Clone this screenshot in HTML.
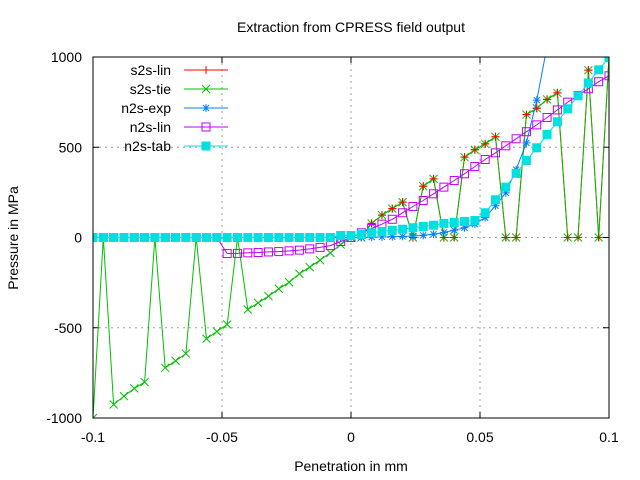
<!DOCTYPE html>
<html><head><meta charset="utf-8"><style>
body{margin:0;background:#fff;}
svg{display:block;font-family:"Liberation Sans",sans-serif;}
</style></head><body>
<svg id="chart" width="640" height="480">
<text x="351" y="32" font-size="14" text-anchor="middle">Extraction from CPRESS field output</text>
<text x="351" y="471" font-size="14" text-anchor="middle">Penetration in mm</text>
<text transform="translate(18,238) rotate(-90)" font-size="14" text-anchor="middle">Pressure in MPa</text>
<g id="grid"></g>
<g id="ticks"></g>
<defs><clipPath id="pc"><rect x="93" y="57" width="516" height="361"/></clipPath></defs>
<g id="series" clip-path="url(#pc)"></g>
<rect x="93" y="57" width="516" height="361" fill="none" stroke="#000" stroke-width="1"/>
<g id="legend"></g>
</svg>
<script>
const xTicks=[-0.1,-0.05,0,0.05,0.1];
const xTickLabels=["-0.1","-0.05","0","0.05","0.1"];
const yTicks=[-1000,-500,0,500,1000];
const yTickLabels=["-1000","-500","0","500","1000"];
const names=["s2s-lin","s2s-tie","n2s-exp","n2s-lin","n2s-tab"];
const colors=["#ff0000","#00c000","#0080ff","#c000ff","#00e0e0"];
const xs=[-0.1,-0.096,-0.092,-0.088,-0.084,-0.08,-0.076,-0.072,-0.068,-0.064,-0.06,-0.056,-0.052,-0.048,-0.044,-0.04,-0.036,-0.032,-0.028,-0.024,-0.02,-0.016,-0.012,-0.008,-0.004,0,0.004,0.008,0.012,0.016,0.02,0.024,0.028,0.032,0.036,0.04,0.044,0.048,0.052,0.056,0.06,0.064,0.068,0.072,0.076,0.08,0.084,0.088,0.092,0.096,0.1];
const s2sTie=[-1000,0,-925,-879,-836,-801,0,-722,-683,-643,0,-561,-521,-482,0,-399,-362,-325,-284,-248,-201,-164,-126,-85,-39,0,0,78,124,160,196,0,284,325,0,0,445,486,519,558,0,0,681,716,765,801,0,0,927,0,1000];
const s2sLin=[0,0,0,0,0,0,0,0,0,0,0,0,0,0,0,0,0,0,0,0,0,0,0,0,0,0,0,78,124,160,196,0,284,325,0,0,445,486,519,558,0,0,681,716,765,801,0,0,927,0,1000];
const n2sExp=[0,0,0,0,0,0,0,0,0,0,0,0,0,0,0,0,0,0,0,0,0,0,0,0,0,0,0,2,3,4,6,8,12,18,28,40,54,74,110,176,247,376,524,761,1060,1450,1950,2600,3400,4400,5600];
const n2sLin=[0,0,0,0,0,0,0,0,0,0,0,0,0,-89,-88,-85,-83,-80,-78,-74,-70,-63,-55,-45,-22,0,26,50,74,101,137,172,205,242,279,316,353,393,432,469,508,547,586,624,665,707,750,787,824,863,896];
const n2sTab=[0,0,0,0,0,0,0,0,0,0,0,0,0,0,0,0,0,0,0,0,0,0,0,0,11,11,17,26,33,40,46,54,61,68,78,83,89,94,137,209,279,355,427,497,571,641,713,785,856,929,997];
const NS="http://www.w3.org/2000/svg";
const X0=93,X1=609,Y0=418,Y1=57;
function sx(v){return X0+(v+0.1)/0.2*(X1-X0);}
function sy(v){return Y0-(v+1000)/2000*(Y0-Y1);}
function mk(tag,attrs,parent){const e=document.createElementNS(NS,tag);for(const k in attrs)e.setAttribute(k,attrs[k]);parent.appendChild(e);return e;}
const grid=document.getElementById('grid'),ticks=document.getElementById('ticks');
xTicks.forEach((t,i)=>{
 const x=sx(t);
 if(i>0&&i<xTicks.length-1){const g=mk('line',{x1:x,x2:x,y1:Y1,y2:Y0,stroke:'#a0a0a0','stroke-dasharray':'2,4'},grid);}
 mk('line',{x1:x,x2:x,y1:Y0,y2:Y0-6,stroke:'#000'},ticks);mk('line',{x1:x,x2:x,y1:Y1,y2:Y1+6,stroke:'#000'},ticks);
 const l=mk('text',{x:x,y:442,'font-size':14,'text-anchor':'middle'},ticks);l.textContent=xTickLabels[i];
 
 
});
yTicks.forEach((t,i)=>{
 const y=sy(t);
 if(i>0&&i<yTicks.length-1){const g=mk('line',{x1:X0,x2:X1,y1:y,y2:y,stroke:'#a0a0a0','stroke-dasharray':'2,4'},grid);}
 mk('line',{x1:X0,x2:X0+6,y1:y,y2:y,stroke:'#000'},ticks);mk('line',{x1:X1,x2:X1-6,y1:y,y2:y,stroke:'#000'},ticks);
 const l=mk('text',{x:82,y:y+5,'font-size':14,'text-anchor':'end'},ticks);l.textContent=yTickLabels[i];
 
 
});
function marker(kind,x,y,c,p){
 if(kind==0){mk('path',{d:`M${x-4},${y}H${x+4}M${x},${y-4}V${y+4}`,stroke:c,fill:'none'},p);}
 else if(kind==1){mk('path',{d:`M${x-4},${y-4}L${x+4},${y+4}M${x-4},${y+4}L${x+4},${y-4}`,stroke:c,fill:'none'},p);}
 else if(kind==2){mk('path',{d:`M${x-4},${y}H${x+4}M${x},${y-4}V${y+4}M${x-3},${y-3}L${x+3},${y+3}M${x-3},${y+3}L${x+3},${y-3}`,stroke:c,fill:'none'},p);}
 else if(kind==3){mk('rect',{x:x-4,y:y-4,width:8,height:8,stroke:c,fill:'none'},p);}
 else {mk('rect',{x:x-4.5,y:y-4.5,width:9,height:9,fill:c},p);}
}
const data=[s2sLin,s2sTie,n2sExp,n2sLin,n2sTab];
const sg=document.getElementById('series');
function drawSeries(si){
 const g=mk('g',{},sg);
 
 
 const pts=xs.map((x,i)=>sx(x).toFixed(1)+','+sy(data[si][i]).toFixed(1)).join(' ');
 mk('polyline',{points:pts,fill:'none',stroke:colors[si],'stroke-width':1},g);
 xs.forEach((x,i)=>marker(si,sx(x),sy(data[si][i]),colors[si],g));
}
drawSeries(0);
drawSeries(1);
const ov=mk('g',{},sg);


xs.forEach((x,i)=>{if(x>0.001)marker(0,sx(x),sy(s2sLin[i]),colors[0],ov);});
drawSeries(2);
drawSeries(3);
drawSeries(4);
const lg=document.getElementById('legend');
names.forEach((n,i)=>{
 const y=70+i*19;
 const g=mk('g',{},lg);
 
 
 const t=mk('text',{x:171,y:y+5,'font-size':14,'text-anchor':'end'},g);t.textContent=n;
 mk('line',{x1:184,x2:228,y1:y,y2:y,stroke:colors[i]},g);
 marker(i,206,y,colors[i],g);
});
</script>
</body></html>
